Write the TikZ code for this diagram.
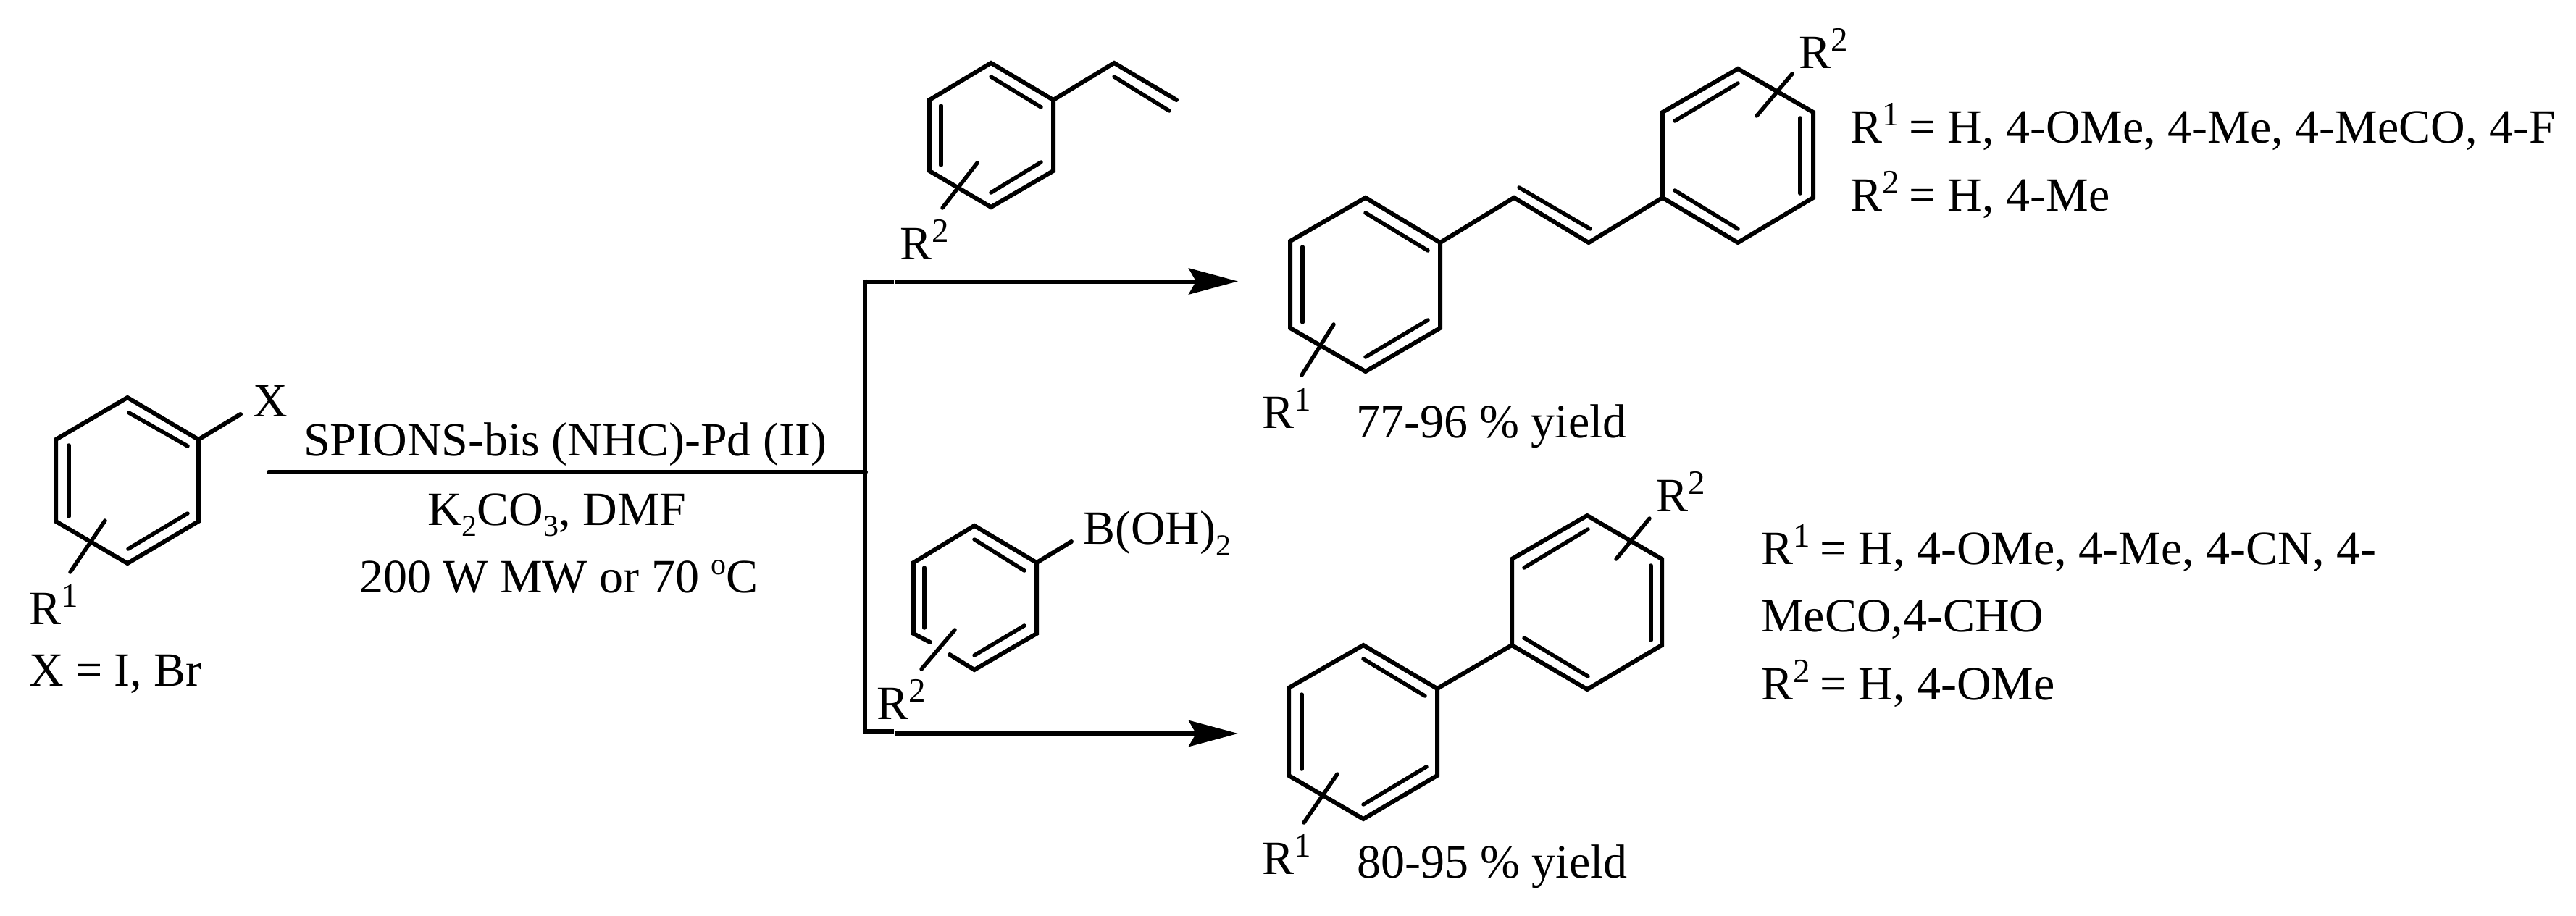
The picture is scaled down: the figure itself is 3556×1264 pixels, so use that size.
\documentclass[tikz,border=0pt]{standalone}
\usepackage{fontspec}
\setmainfont{Liberation Serif}
\usetikzlibrary{arrows.meta}
\newcommand{\Rlab}[1]{R\raisebox{24pt}{\fontsize{47}{47}\selectfont #1}}
\newcommand{\Rdef}[1]{\Rlab{#1}\kern-3pt{} = }
\newcommand{\smallup}[2]{\raisebox{#1}{\fontsize{42}{42}\selectfont #2}}
\tikzset{
  bond/.style={line width=6pt,line join=miter,miter limit=10,line cap=round},
  inner bond/.style={line width=5.5pt,line cap=round},
  sub bond/.style={line width=5.5pt,line cap=round},
  label text/.style={anchor=base west,inner sep=0pt,outer sep=0pt,font=\fontsize{66}{70}\selectfont},
  main line/.style={line width=6pt},
  rail/.style={line width=5.5pt},
  rxn arrow/.style={line width=6pt,-{Stealth[length=68pt,width=36pt,inset=10pt]}}
}
\begin{document}
\begin{tikzpicture}[x=1pt,y=-1pt]
\useasboundingbox (0,0) rectangle (3556,1264);
\fill[white] (0,0) rectangle (3556,1264);

% reaction scheme lines
\coordinate (start) at (371,652);
\coordinate (branch) at (1195,652);
\coordinate (railtop) at (1194.5,385.5);
\coordinate (railbot) at (1194.5,1012.5);
\coordinate (stubtop) at (1234,388.5);
\coordinate (stubtopL) at (1192,388.5);
\coordinate (stubbot) at (1234,1010);
\coordinate (stubbotL) at (1192,1010);
\coordinate (shafttop) at (1234.5,388.5);
\coordinate (shaftbot) at (1234.5,1013);
\coordinate (tiptop) at (1709,388.5);
\coordinate (tipbot) at (1709,1013);
\draw[main line,line cap=round] (start) -- (branch);
\draw[rail] (railtop) -- (railbot);
\draw[main line] (stubtopL) -- (stubtop);
\draw[main line] (stubbotL) -- (stubbot);
\draw[rxn arrow] (shafttop) -- (tiptop);
\draw[rxn arrow] (shaftbot) -- (tipbot);

% aryl halide
\draw[bond] (176,549) -- (274,607) -- (274,720) -- (176,778) -- (77,720) -- (77,607) -- cycle;
\draw[bond] (274,607) -- (332,572);
\draw[inner bond] (178,570) -- (259,616);
\draw[inner bond] (95,615) -- (95,713);
\draw[inner bond] (259,709) -- (177,758);
\draw[sub bond] (145,719) -- (97,790);

% styrene
\draw[bond] (1368,87) -- (1454,138) -- (1454,236) -- (1368,286) -- (1283,236) -- (1283,138) -- cycle;
\draw[bond] (1454,138) -- (1538,87) -- (1624,138);
\draw[inner bond] (1538,106) -- (1614,153);
\draw[inner bond] (1368,106) -- (1437,148);
\draw[inner bond] (1299,146) -- (1299,228);
\draw[inner bond] (1437,224) -- (1368,266);
\draw[sub bond] (1349,225) -- (1301,287);

% stilbene
\draw[bond] (1885,273) -- (1988,335) -- (1988,453) -- (1885,513) -- (1781,453) -- (1781,333) -- cycle;
\draw[bond] (1988,335) -- (2090,273) -- (2193,335) -- (2295,273);
\draw[inner bond] (2097,259) -- (2195,316);
\draw[inner bond] (1885,294) -- (1971,346);
\draw[inner bond] (1798,341) -- (1798,445);
\draw[inner bond] (1971,442) -- (1885,493);
\draw[sub bond] (1841,448) -- (1797,518);
\draw[bond] (2295,273) -- (2295,155) -- (2399,95) -- (2503,155) -- (2503,273) -- (2399,335) -- cycle;
\draw[inner bond] (2399,115) -- (2312,167);
\draw[inner bond] (2485,163) -- (2485,267);
\draw[inner bond] (2312,263) -- (2399,316);
\draw[sub bond] (2474,102) -- (2425,160);

% boronic acid (ring bond broken behind the substituent)
\draw[bond] (1284,887) -- (1261,875) -- (1261,777) -- (1345,726) -- (1431,777) -- (1431,875) -- (1345,925) -- (1311,904);
\draw[bond] (1431,777) -- (1479,748);
\draw[inner bond] (1345,745) -- (1414,788);
\draw[inner bond] (1276,784) -- (1276,867);
\draw[inner bond] (1414,864) -- (1345,905);
\draw[sub bond] (1318,870) -- (1272,924);

% biaryl
\draw[bond] (1882,891) -- (1984,951) -- (1984,1071) -- (1882,1131) -- (1779,1071) -- (1779,950) -- cycle;
\draw[bond] (1984,951) -- (2087,891);
\draw[inner bond] (1882,910) -- (1967,961);
\draw[inner bond] (1797,959) -- (1797,1062);
\draw[inner bond] (1969,1059) -- (1882,1111);
\draw[sub bond] (1846,1069) -- (1800,1136);
\draw[bond] (2087,891) -- (2087,772) -- (2191,712) -- (2294,772) -- (2294,891) -- (2191,952) -- cycle;
\draw[inner bond] (2192,731) -- (2104,784);
\draw[inner bond] (2279,781) -- (2279,884);
\draw[inner bond] (2104,881) -- (2192,934);
\draw[sub bond] (2277,716) -- (2231,772);

% texts
\node[label text] (x) at (349,575) {X};
\node[label text] (r1a) at (40,862) {\Rlab{1}};
\node[label text] (xdef) at (40,947) {X = I, Br};
\node[label text] (cat) at (419,629) {SPIONS-bis (NHC)-Pd (II)};
\node[label text] (base) at (590,725) {K\smallup{-15pt}{2}CO\smallup{-15pt}{3}, DMF};
\node[label text] (cond) at (496,818) {200 W MW or 70 \smallup{25pt}{o}C};
\node[label text] (r2s) at (1242,358) {\Rlab{2}};
\node[label text] (r1st) at (1742,591) {\Rlab{1}};
\node[label text] (r2st) at (2483,94) {\Rlab{2}};
\node[label text] (yield1) at (1872,604) {77-96 \% yield};
\node[label text] (def1) at (2554,197) {\Rdef{1}H, 4-OMe, 4-Me, 4-MeCO, 4-F};
\node[label text] (def2) at (2554,291) {\Rdef{2}H, 4-Me};
\node[label text] (boh) at (1495,751) {B(OH)\smallup{-16pt}{2}};
\node[label text] (r2b) at (1210,993) {\Rlab{2}};
\node[label text] (r1c) at (1742,1207) {\Rlab{1}};
\node[label text] (r2d) at (2286,706) {\Rlab{2}};
\node[label text] (yield2) at (1873,1212) {80-95 \% yield};
\node[label text] (def3) at (2431,779) {\Rdef{1}H, 4-OMe, 4-Me, 4-CN, 4-};
\node[label text] (def4) at (2431,872) {MeCO,4-CHO};
\node[label text] (def5) at (2431,966) {\Rdef{2}H, 4-OMe};
\end{tikzpicture}
\end{document}
